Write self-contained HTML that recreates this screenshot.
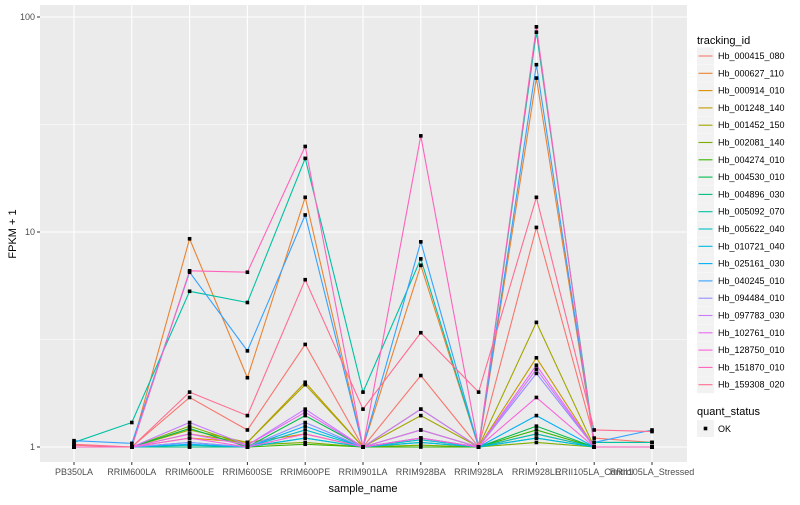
<!DOCTYPE html>
<html><head><meta charset="utf-8"><style>
body{margin:0;background:#fff;font-family:"Liberation Sans",sans-serif}
svg text{font-family:"Liberation Sans",sans-serif}
</style></head><body>
<svg id="c" width="800" height="500" xmlns="http://www.w3.org/2000/svg"></svg>
<script>
const samples=["PB350LA","RRIM600LA","RRIM600LE","RRIM600SE","RRIM600PE","RRIM901LA","RRIM928BA","RRIM928LA","RRIM928LE","RRII105LA_Control","RRII105LA_Stressed"];
const ids=["Hb_000415_080","Hb_000627_110","Hb_000914_010","Hb_001248_140","Hb_001452_150","Hb_002081_140","Hb_004274_010","Hb_004530_010","Hb_004896_030","Hb_005092_070","Hb_005622_040","Hb_010721_040","Hb_025161_030","Hb_040245_010","Hb_094484_010","Hb_097783_030","Hb_102761_010","Hb_128750_010","Hb_151870_010","Hb_159308_020"];
const s080=[1.02,1.0,1.7,1.2,3.0,1.0,2.15,1.0,10.5,1.1,1.05];
const s110=[1.0,1.0,9.3,2.1,14.5,1.0,7.0,1.0,52,1.05,1.05];
const s914=[1.0,1.0,1.1,1.05,1.15,1.0,1.1,1.0,1.15,1.0,1.0];
const s1248=[1.0,1.0,1.15,1.05,2.0,1.0,1.5,1.0,2.6,1.0,1.0];
const s1452=[1.0,1.0,1.2,1.05,1.95,1.0,1.4,1.0,3.8,1.0,1.0];
const s2081=[1.0,1.0,1.25,1.02,1.05,1.0,1.02,1.0,1.05,1.0,1.0];
const s4274=[1.0,1.0,1.0,1.0,1.03,1.0,1.0,1.0,1.2,1.0,1.0];
const s4530=[1.0,1.0,1.22,1.0,1.4,1.0,1.2,1.0,1.25,1.0,1.0];
const s4896=[1.0,1.0,1.0,1.0,1.1,1.0,1.05,1.0,1.1,1.0,1.0];
const s5092=[1.05,1.3,5.3,4.7,22,1.8,7.5,1.0,85,1.05,1.05];
const s5622=[1.0,1.0,1.02,1.0,1.2,1.0,1.08,1.0,1.15,1.0,1.0];
const s10721=[1.0,1.0,1.05,1.0,1.1,1.0,1.05,1.0,1.1,1.0,1.0];
const s25161=[1.0,1.0,1.03,1.0,1.25,1.0,1.1,1.0,1.4,1.0,1.0];
const s40245=[1.07,1.04,6.5,2.8,12,1.0,9.0,1.0,60,1.05,1.2];
const s94484=[1.0,1.0,1.05,1.0,1.3,1.0,1.1,1.0,2.2,1.0,1.0];
const s97783=[1.0,1.0,1.3,1.02,1.5,1.0,1.5,1.0,2.3,1.0,1.0];
const s102761=[1.0,1.0,1.15,1.02,1.45,1.0,1.2,1.0,2.4,1.0,1.0];
const s128750=[1.0,1.0,1.1,1.0,1.15,1.0,1.1,1.0,1.7,1.0,1.0];
const s151870=[1.0,1.0,6.6,6.5,25,1.0,28,1.0,90,1.0,1.0];
const s159308=[1.03,1.0,1.8,1.4,6.0,1.5,3.4,1.8,14.5,1.2,1.18];
const series=[s080,s110,s914,s1248,s1452,s2081,s4274,s4530,s4896,s5092,s5622,s10721,s25161,s40245,s94484,s97783,s102761,s128750,s151870,s159308];
const yTicks=[1,10,100];
const colors=["#F8766D","#EA8331","#D89000","#C09B00","#A3A500","#7CAE00","#39B600","#00BB4E","#00BF7D","#00C1A3","#00BFC4","#00BAE0","#00B0F6","#35A2FF","#9590FF","#C77CFF","#E76BF3","#FA62DB","#FF62BC","#FF6C91"];
const svg=document.getElementById('c');const NS="http://www.w3.org/2000/svg";
function mk(t,a,p){const e=document.createElementNS(NS,t);for(const k in a)e.setAttribute(k,a[k]);(p||svg).appendChild(e);return e;}
const L=40,R=687,T=5,B=462;
const x=i=>74+i*57.8;
const y=v=>447-Math.log10(v)*215;
const bg=mk('rect',{x:L,y:T,width:R-L,height:B-T,fill:'#EBEBEB'});


for(let k=0;k<2;k++){const v=Math.pow(10,k+0.5);mk('line',{x1:L,x2:R,y1:y(v),y2:y(v),stroke:'#fff','stroke-width':0.5});}
yTicks.forEach(t=>{
 const g=mk('line',{x1:L,x2:R,y1:y(t),y2:y(t),stroke:'#fff','stroke-width':1.1});
 
 
 mk('line',{x1:L-3,x2:L,y1:y(t),y2:y(t),stroke:'#333'});
 const tx=mk('text',{x:L-5,y:y(t)+3,'text-anchor':'end','font-size':9,fill:'#4D4D4D'});tx.textContent=t;
 
 
});
samples.forEach((s,i)=>{
 const g=mk('line',{x1:x(i),x2:x(i),y1:T,y2:B,stroke:'#fff','stroke-width':1.1});
 
 
 mk('line',{x1:x(i),x2:x(i),y1:B,y2:B+3,stroke:'#333'});
 const tx=mk('text',{x:x(i),y:B+13,'text-anchor':'middle','font-size':9,fill:'#4D4D4D'});tx.textContent=s;
 
 
});
series.forEach((d,si)=>{
 const p=mk('polyline',{points:d.map((v,i)=>x(i)+','+y(v)).join(' '),fill:'none',stroke:colors[si],'stroke-width':1.1});
 
 
});
series.forEach((d,si)=>{d.forEach((v,i)=>{
 const r=mk('rect',{x:x(i)-1.8,y:y(v)-1.8,width:3.6,height:3.6,fill:'#000'});
 
 
});});
let t1=mk('text',{x:363,y:492,'text-anchor':'middle','font-size':11,fill:'#000'});t1.textContent='sample_name';


let t2=mk('text',{x:16,y:234,'text-anchor':'middle','font-size':11,fill:'#000',transform:'rotate(-90 16 234)'});t2.textContent='FPKM + 1';


let lt=mk('text',{x:697,y:44,'font-size':11,fill:'#000'});lt.textContent='tracking_id';


ids.forEach((id,i)=>{
 const cy=56+i*17.3;
 const g=mk('g',{});
 
 
 mk('rect',{x:697,y:cy-8.5,width:17,height:17,fill:'#F2F2F2'},g);
 mk('line',{x1:698.5,x2:712.5,y1:cy,y2:cy,stroke:colors[i],'stroke-width':1.1},g);
 const t=mk('text',{x:718,y:cy+3,'font-size':9,fill:'#000'},g);t.textContent=id;
});
let qt=mk('text',{x:697,y:415,'font-size':11,fill:'#000'});qt.textContent='quant_status';


const qg=mk('g',{});


mk('rect',{x:697,y:420,width:17,height:17,fill:'#F2F2F2'},qg);
mk('rect',{x:703.7,y:426.7,width:3.6,height:3.6,fill:'#000'},qg);
const ok=mk('text',{x:718,y:432,'font-size':9,fill:'#000'},qg);ok.textContent='OK';
</script>
</body></html>
